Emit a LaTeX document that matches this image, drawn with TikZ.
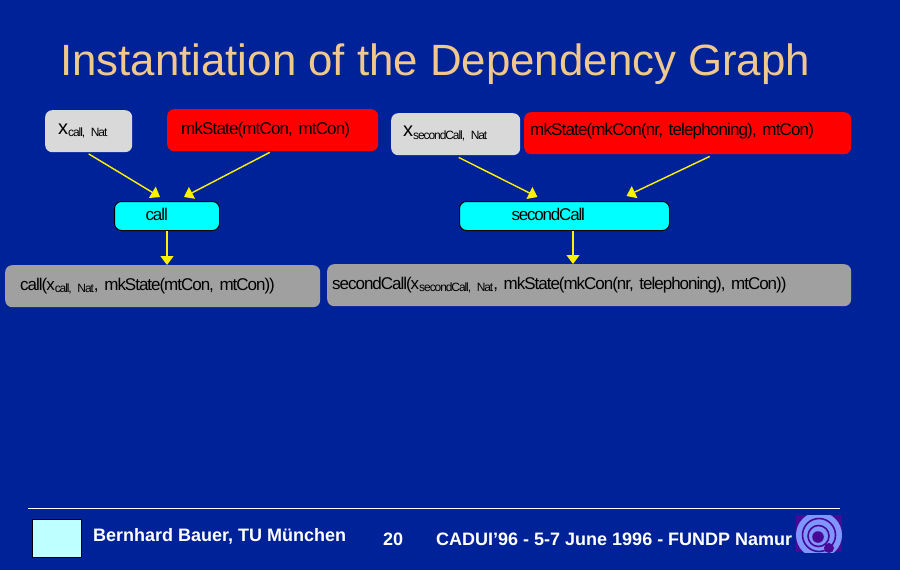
\documentclass[tikz,border=0pt]{standalone}
\usepackage{fontspec}
\setmainfont{Liberation Sans}
\usetikzlibrary{arrows.meta,calc}
\definecolor{bg}{RGB}{0,34,152}
\definecolor{titlec}{RGB}{240,200,140}
\definecolor{lgrey}{RGB}{217,217,217}
\definecolor{mgrey}{RGB}{160,160,160}
\definecolor{cyanb}{RGB}{0,255,255}
\definecolor{logobg}{RGB}{70,10,150}
\definecolor{logoring}{RGB}{128,150,255}
\definecolor{pale}{RGB}{190,255,255}
\newcommand{\tb}[3]{\hspace*{#1pt}\raisebox{#2pt}{\addfontfeature{LetterSpace=-6}#3}}
\newcommand{\bigx}{{\fontsize{20}{20}\selectfont x}}
\newcommand{\sbs}[1]{\raisebox{-2.5pt}{\fontsize{12}{12}\selectfont\addfontfeature{LetterSpace=-9}#1}}
\tikzset{
 rbox/.style={rounded corners=7pt,inner xsep=0pt,inner ysep=0pt,align=left,anchor=north west,font=\fontsize{17}{17}\selectfont,text=black},
 greybox/.style={rbox,fill=lgrey},
 redbox/.style={rbox,fill=red},
 cyanbox/.style={rbox,fill=cyanb,draw=black,line width=1pt},
 resbox/.style={rbox,fill=mgrey},
 flow/.style={draw=yellow,line width=1.4pt,-{Triangle[length=9pt,width=13pt,fill=yellow]}},
 foot/.style={text=white,font=\fontsize{18}{18}\selectfont\bfseries,inner sep=0pt}
}
\begin{document}
\begin{tikzpicture}[x=1pt,y=-1pt]
\useasboundingbox (0,0) rectangle (900,570);
\fill[bg] (0,0) rectangle (900,570);
\node[text=titlec,font=\fontsize{43.8}{43.8}\selectfont,anchor=west,inner sep=0pt] (title) at (60,64) {Instantiation of the Dependency Graph};

\node[greybox,text width=87pt,minimum height=42pt] (x1) at (45,110) {\tb{13}{3}{\bigx\sbs{call, Nat}}};
\node[redbox,text width=211pt,minimum height=42pt] (r1) at (167,109) {\tb{14}{2}{\addfontfeature{LetterSpace=-5}mkState(mtCon, mtCon)}};
\node[cyanbox,text width=105pt,minimum height=29pt] (c1) at (114,201) {\tb{31}{3}{call}};
\node[resbox,text width=315pt,minimum height=42pt] (g1) at (5,265) {\tb{15}{1}{call(x\sbs{call, Nat}, mkState(mtCon, mtCon))}};

\node[greybox,text width=129pt,minimum height=42pt] (x2) at (391,113) {\tb{12}{5}{\bigx\sbs{secondCall, Nat}}};
\node[redbox,text width=327pt,minimum height=42pt] (r2) at (524,112) {\tb{6}{7}{\addfontfeature{LetterSpace=-5}mkState(mkCon(nr, telephoning), mtCon)}};
\node[cyanbox,text width=210pt,minimum height=29pt] (c2) at (459,201) {\tb{52}{3}{\addfontfeature{LetterSpace=-7}secondCall}};
\node[resbox,text width=524pt,minimum height=42pt] (g2) at (327,264) {\tb{5}{3}{secondCall(x\sbs{secondCall, Nat}, mkState(mkCon(nr, telephoning), mtCon))}};

\draw[flow] ([xshift=0pt,yshift=-1.5pt]x1.south) -- ([xshift=-7pt,yshift=4pt]c1.north);
\draw[flow] ([xshift=-3pt,yshift=-1pt]r1.south) -- ([xshift=17pt,yshift=4pt]c1.north);
\draw[flow] (c1.south) -- (g1.north -| c1.south);
\draw[flow] ([xshift=3pt,yshift=-2pt]x2.south) -- ([xshift=-27pt,yshift=4pt]c2.north);
\draw[flow] ([xshift=22pt,yshift=-2pt]r2.south) -- ([xshift=62pt,yshift=5pt]c2.north);
\draw[flow,line width=1.1pt] ([xshift=8.5pt]c2.south) -- ([xshift=8.5pt]c2.south |- g2.north);

\draw[white,line width=0.7pt] (28,508) -- (840,508);
\node[fill=pale,draw=black,line width=0.9pt,anchor=north west,minimum width=49pt,minimum height=38pt,inner sep=0pt] (sq) at (32,519) {};
\node[foot,anchor=west] (author) at (93,536) {Bernhard Bauer, TU München};
\node[foot,anchor=west] (page) at (383,539) {20};
\node[foot,anchor=west] (conf) at (436,539) {CADUI'96 - 5-7 June 1996 - FUNDP Namur};

\fill[logobg] (796,515) rectangle (842,552);
\begin{scope}
\clip (796,515) rectangle (842,552);
\fill[logoring] (819,535) circle (23pt);
\draw[logobg,line width=1.6pt] (819,535) circle (16.5pt);
\draw[logobg,line width=1.6pt] (818.5,536) circle (10.5pt);
\fill[logobg] (818,537) circle (5.8pt);
\fill[logobg] (829,548) circle (5pt);
\end{scope}
\end{tikzpicture}
\end{document}
